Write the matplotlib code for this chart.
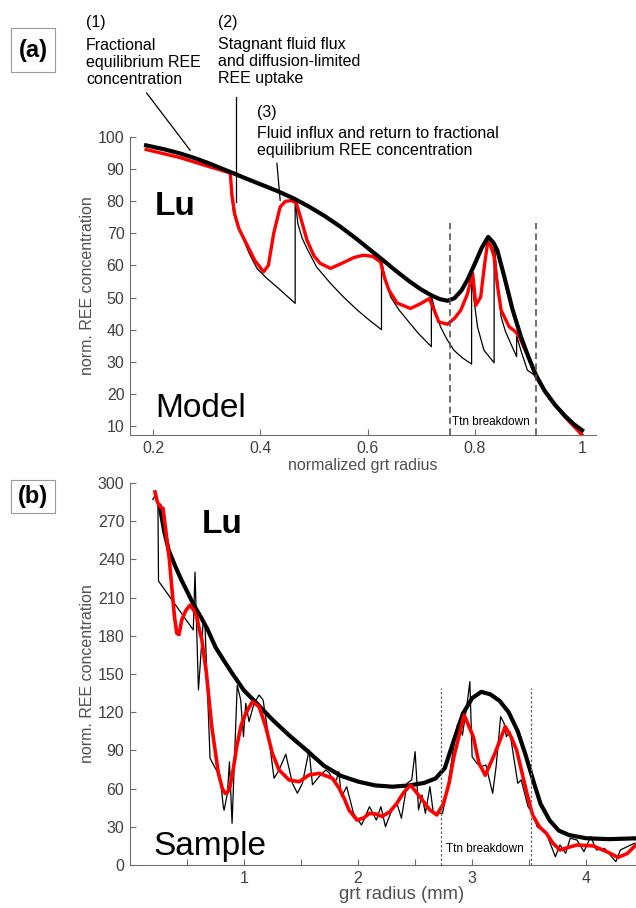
import numpy as np
import matplotlib
matplotlib.use("Agg")
import matplotlib.pyplot as plt
from matplotlib.patches import Rectangle

plt.rcParams['font.family'] = ['Liberation Sans', 'DejaVu Sans']

# ---- panel (a): model ----
eq_x = [0.187, 0.22, 0.25, 0.28, 0.31, 0.344, 0.37, 0.40, 0.43, 0.462, 0.49, 0.52,
        0.55, 0.58, 0.60, 0.624, 0.65, 0.68, 0.70, 0.72, 0.735, 0.749, 0.762, 0.775,
        0.786, 0.80, 0.813, 0.825, 0.835, 0.842, 0.855, 0.87, 0.886, 0.90, 0.914,
        0.93, 0.95, 0.97, 0.985, 1.0]
eq_y = [97.4, 96.2, 94.9, 93.3, 91.4, 89.1, 87.3, 85.3, 83.3, 80.9, 78.4, 75.4,
        72.0, 68.2, 65.5, 62.3, 58.7, 54.8, 52.5, 50.6, 49.5, 49.0, 49.8, 52.2,
        55.4, 60.5, 65.5, 68.9, 67.0, 64.7, 56.5, 46.5, 37.8, 31.5, 25.9,
        21.0, 16.5, 12.8, 10.5, 8.7]

smooth_x = [0.187, 0.25, 0.30, 0.344, 0.347, 0.352, 0.36, 0.375, 0.39, 0.406, 0.415,
            0.425, 0.437, 0.447, 0.458, 0.467, 0.475, 0.487, 0.50, 0.512, 0.531, 0.55,
            0.575, 0.593, 0.61, 0.624, 0.632, 0.64, 0.655, 0.68, 0.70, 0.715, 0.722,
            0.733, 0.749, 0.762, 0.774, 0.786, 0.796, 0.802, 0.811, 0.818, 0.824,
            0.83, 0.836, 0.842, 0.849, 0.864, 0.875, 0.883, 0.90, 0.914, 0.94, 0.97, 1.0]
smooth_y = [96.1, 93.6, 91.0, 88.8, 82, 76.2, 71.5, 66.5, 61.5, 58.0, 60,
            70, 78.2, 80, 80.2, 79.5, 75, 67.9, 63, 60.6, 59.1, 60.5,
            62.5, 63.2, 62.8, 61.1, 56, 52.3, 48.3, 46.6, 48.2, 49.7, 47,
            42.4, 41.7, 43.5, 46.1, 51, 57.5, 47.6, 50.2, 60, 67.3,
            66, 62.7, 54, 46.1, 40.9, 39.5, 37.8, 31.5, 25.3, 18.5, 12.5, 7.2]

saw_x = [0.187, 0.25, 0.30, 0.344, 0.346, 0.35, 0.356, 0.37, 0.38, 0.394, 0.412, 0.431,
         0.465,
         0.465, 0.47, 0.478, 0.487, 0.505, 0.531, 0.555, 0.581, 0.603, 0.626,
         0.626, 0.632, 0.643, 0.658, 0.674, 0.695, 0.719,
         0.719, 0.725, 0.736, 0.748, 0.761, 0.777, 0.794,
         0.794, 0.798, 0.805, 0.817, 0.836,
         0.836, 0.842, 0.849, 0.857, 0.867, 0.878,
         0.878, 0.886, 0.898, 0.914, 0.95, 1.0]
saw_y = [97.4, 94.9, 92.5, 89.1, 82, 76.5, 73, 67.5, 63.5, 59, 56, 53.3,
         48.2,
         80.7, 73, 68.5, 65.3, 59.5, 54.4, 50.2, 46.1, 43, 40,
         62.1, 56, 50.2, 46.3, 43, 38.8, 34.7,
         50.6, 46.5, 40.9, 37, 33.6, 31.2, 29.3,
         57.9, 50, 40.9, 33.6, 29.7,
         67, 56, 44, 39.5, 35.7, 31.6,
         38, 33.5, 27.4, 25.5, 16.5, 8.7]

ttn_a = [0.754, 0.914]

# ---- panel (b): sample ----
fit_x = [0.26, 0.30, 0.34, 0.40, 0.45, 0.50, 0.56, 0.62, 0.68, 0.75, 0.82, 0.90, 1.0,
         1.1, 1.25, 1.4, 1.55, 1.7, 1.85, 2.0, 2.15, 2.3, 2.45, 2.58, 2.68, 2.76,
         2.84, 2.92, 3.0, 3.08, 3.16, 3.24, 3.32, 3.40, 3.47, 3.54, 3.60, 3.68,
         3.76, 3.85, 4.0, 4.2, 4.45, 4.77]
fit_y = [282, 262, 247, 234, 224, 215, 204, 195, 185, 171, 161, 150, 137,
         128, 114, 101.5, 90, 78, 70, 65.5, 62.5, 61.5, 62.5, 64.5, 68, 76,
         98, 119, 131, 136, 134, 129, 120, 105, 86, 65, 48, 35,
         27, 23.5, 21, 20.3, 21, 21.5]

meas_x = [0.20, 0.23, 0.245, 0.25, 0.555, 0.57, 0.60, 0.643, 0.658, 0.702, 0.76, 0.79,
          0.818, 0.825, 0.854, 0.872, 0.895, 0.94, 0.97, 0.995, 1.015, 1.044, 1.088,
          1.132, 1.167, 1.22, 1.263, 1.307, 1.366, 1.424, 1.468, 1.512, 1.57, 1.6,
          1.658, 1.717, 1.75, 1.78, 1.81, 1.83, 1.855, 1.9, 1.96, 2.03, 2.1, 2.16,
          2.2, 2.24, 2.29, 2.34, 2.38, 2.43, 2.47, 2.5, 2.53, 2.56, 2.59, 2.63,
          2.66, 2.74, 2.78, 2.83, 2.87, 2.89, 2.915, 2.96, 2.98, 3.0, 3.04, 3.08,
          3.12, 3.18, 3.21, 3.25, 3.28, 3.3, 3.33, 3.4, 3.43, 3.49, 3.53, 3.57,
          3.65, 3.73, 3.77, 3.82, 3.86, 3.92, 3.98, 4.04, 4.09, 4.16, 4.26, 4.3,
          4.36, 4.42, 4.5]
meas_y = [287, 292, 283, 223, 184.6, 230, 137.5, 192.5, 187, 83.8, 74, 70,
          45.8, 43, 56.3, 81, 32.8, 141, 130, 100.8, 127, 112.6, 127,
          133.5, 129.6, 98, 68.1, 74.6, 87, 64.2, 56.3, 64.2, 90.3, 63,
          69.4, 74.6, 72, 66, 66.8, 73.3, 53.7, 61.5, 40.6, 31.4, 45.8, 35.3,
          45.8, 30.1, 41.9, 48.5, 36.7, 64.2, 66.8, 89, 43.2, 55, 40.6, 61.5,
          40.6, 40.6, 58, 88, 110, 111, 102, 129.6, 144, 85, 80, 77.2,
          78.6, 56.3, 77.2, 116.5, 111.3, 100.8, 104.7, 64.2, 66.8, 45.8, 40.6, 30.1,
          24.9, 6.5, 15.7, 9.2, 21, 19.6, 10.5, 22.3, 11.8, 13.1, 2.6, 11.8,
          14.4, 17, 15]

filt_x = [0.219, 0.24, 0.263, 0.29, 0.32, 0.345, 0.366, 0.39, 0.41, 0.43, 0.454, 0.49,
          0.526, 0.56, 0.585, 0.61, 0.63, 0.67, 0.717, 0.775, 0.81, 0.833, 0.855, 0.877,
          0.905, 0.936, 0.975, 1.015, 1.073, 1.132, 1.19, 1.248, 1.307, 1.395, 1.482,
          1.57, 1.658, 1.72, 1.775, 1.833, 1.88, 1.92, 1.99, 2.05, 2.1, 2.16, 2.21,
          2.28, 2.34, 2.40, 2.46, 2.54, 2.63, 2.69, 2.75, 2.80, 2.84, 2.93, 3.01,
          3.06, 3.115, 3.2, 3.29, 3.34, 3.39, 3.48, 3.53, 3.59, 3.65, 3.71, 3.77,
          3.85, 3.92, 4.06, 4.18, 4.28, 4.36, 4.45]
filt_y = [293, 285, 281.5, 280, 258, 240, 218.6, 195, 182, 181, 192.5, 200,
          204, 200, 195, 184, 177, 150.6, 108.6, 72, 60, 56.3, 57, 61.5,
          75, 93, 110, 119, 128.3, 124.4, 108.6, 87.7, 74.6, 66.8, 65.4,
          70.7, 72, 70, 68.1, 60.3, 52, 43.2, 35.3, 37, 40.6, 40, 38,
          42, 48.5, 57, 62.8, 53.7, 43.2, 39.3, 48.5, 65, 85, 117.8, 100.8,
          80, 70.5, 87.7, 108.6, 101, 90.3, 56.3, 39.3, 30, 24.9, 17, 11.8,
          14, 15.7, 15, 10.5, 6, 9, 17]

ttn_b = [2.73, 3.515]

W, H = 636, 908
fig = plt.figure(figsize=(W / 100, H / 100), dpi=100)


def fpos(x, y):
    return x / W, 1 - y / H


def style_axes(ax):
    for s in ['top', 'right']:
        ax.spines[s].set_visible(False)
    for s in ['left', 'bottom']:
        ax.spines[s].set_color('#6e6e6e')
        ax.spines[s].set_linewidth(0.8)
    ax.tick_params(direction='in', length=4, width=0.8, colors='#6e6e6e',
                   labelcolor='#404040', labelsize=11.5, pad=4)


gray_lbl = '#505050'

# ---- axes (a) ----
axa = fig.add_axes([130 / W, (H - 435) / H, (596 - 130) / W, (435 - 137) / H])
axa.plot(saw_x, saw_y, color='black', lw=0.9)
axa.plot(smooth_x, smooth_y, color='#ff0000', lw=2.4, solid_joinstyle='round')
axa.plot(eq_x, eq_y, color='black', lw=3.0, solid_joinstyle='round')
for xv in ttn_a:
    axa.plot([xv, xv], [7.2, 73.1], ls=(0, (4, 2.5)), color='#555555', lw=1.2)
axa.text(0.757, 11.3, 'Ttn breakdown', fontsize=8.5, va='center', ha='left')
axa.text(0.204, 75.6, 'Lu', fontsize=24, fontweight='bold', va='baseline')
axa.text(0.204, 12.9, 'Model', fontsize=24, va='baseline')
axa.set_xlim(0.157, 1.026)
axa.set_ylim(7.2, 100)
axa.set_xticks([0.2, 0.4, 0.6, 0.8, 1.0])
axa.set_xticklabels(['0.2', '0.4', '0.6', '0.8', '1'])
axa.set_yticks(np.arange(10, 101, 10))
style_axes(axa)
axa.set_xlabel('normalized grt radius', fontsize=11.5, color=gray_lbl, labelpad=2)
axa.set_ylabel('norm. REE concentration', fontsize=11.5, color=gray_lbl, labelpad=2)

# leader lines for the annotations
axa.plot([0.188, 0.269], [113.7, 95.9], color='black', lw=0.9, clip_on=False)
axa.plot([0.355, 0.355], [112.4, 79.7], color='black', lw=0.9, clip_on=False)
axa.plot([0.431, 0.437], [91.8, 80.3], color='black', lw=0.9, clip_on=False)

# ---- axes (b) ----
axb = fig.add_axes([130 / W, (H - 865) / H, 544 / W, 382 / H])
axb.plot(meas_x, meas_y, color='black', lw=0.9)
axb.plot(fit_x, fit_y, color='black', lw=3.0, solid_joinstyle='round')
axb.plot(filt_x, filt_y, color='#ff0000', lw=2.6, solid_joinstyle='round')
for xv in ttn_b:
    axb.plot([xv, xv], [0, 139], ls=(0, (2, 1.6)), color='#666666', lw=0.9)
axb.text(2.77, 12.6, 'Ttn breakdown', fontsize=8.5, va='center', ha='left')
axb.text(0.63, 260.8, 'Lu', fontsize=24, fontweight='bold', va='baseline')
axb.text(0.21, 7.9, 'Sample', fontsize=24, va='baseline')
axb.set_xlim(0, 4.77)
axb.set_ylim(0, 300)
xt = np.arange(0.5, 4.75, 0.5)
axb.set_xticks(xt)
axb.set_xticklabels([str(int(v)) if v == int(v) else '' for v in xt])
axb.set_yticks(np.arange(0, 301, 30))
style_axes(axb)
axb.set_xlabel('grt radius (mm)', fontsize=13.3, color=gray_lbl, labelpad=0)
axb.set_ylabel('norm. REE concentration', fontsize=11.5, color=gray_lbl, labelpad=2)

# ---- panel letters ----
for (x0, y0, x1, y1, lab) in [(11, 28, 55, 72, '(a)'), (11, 480, 55, 513, '(b)')]:
    fx, fy = fpos(x0, y1)
    fig.patches.append(Rectangle((fx, fy), (x1 - x0) / W, (y1 - y0) / H,
                                 transform=fig.transFigure, fill=True, fc='white',
                                 ec='#9a9a9a', lw=0.8))
    cx, cy = fpos((x0 + x1) / 2, (y0 + y1) / 2)
    fig.text(cx, cy, lab, fontsize=17, fontweight='bold', ha='center', va='center')

# ---- annotation texts ----
ann = [
    (86, 22, '(1)'),
    (86, 45, 'Fractional'), (86, 62, 'equilibrium REE'), (86, 79, 'concentration'),
    (218, 22, '(2)'),
    (218, 45, 'Stagnant fluid flux'), (218, 62, 'and diffusion-limited'),
    (218, 79, 'REE uptake'),
    (257, 112, '(3)'),
    (257, 134, 'Fluid influx and return to fractional'),
    (257, 151, 'equilibrium REE concentration'),
]
for x, y, s in ann:
    fx, fy = fpos(x, y)
    fig.text(fx, fy, s, fontsize=11.5, ha='left', va='center')

fig.savefig('out.png', dpi=100)
